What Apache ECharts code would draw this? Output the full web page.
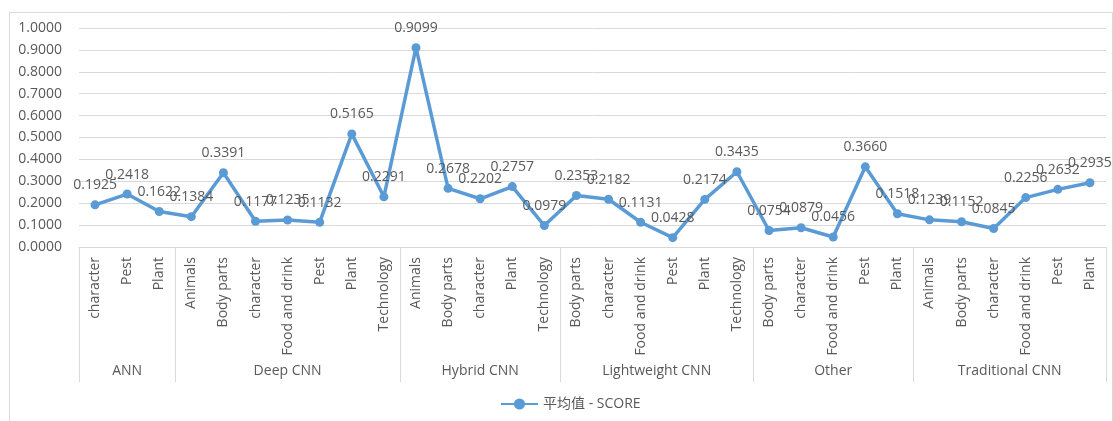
<!DOCTYPE html>
<html>
<head>
<meta charset="utf-8">
<script src="https://cdn.jsdelivr.net/npm/echarts@6/dist/echarts.min.js"></script>
<style>
  html, body { margin: 0; padding: 0; background: #ffffff; }
  #chart { width: 1113px; height: 421px; }
</style>
</head>
<body>
<div id="chart"></div>
<script>
// Model families (outer axis level) and how many domains each covers
const groupNames = ['ANN', 'Deep CNN', 'Hybrid CNN', 'Lightweight CNN', 'Other', 'Traditional CNN'];
const groupSizes = [3, 7, 5, 6, 5, 6];

// Application domains (inner axis level), in plotting order
const categories = [
  'character', 'Pest', 'Plant',
  'Animals', 'Body parts', 'character', 'Food and drink', 'Pest', 'Plant', 'Technology',
  'Animals', 'Body parts', 'character', 'Plant', 'Technology',
  'Body parts', 'character', 'Food and drink', 'Pest', 'Plant', 'Technology',
  'Body parts', 'character', 'Food and drink', 'Pest', 'Plant',
  'Animals', 'Body parts', 'character', 'Food and drink', 'Pest', 'Plant'
];

// Mean SCORE per family / domain
const scoreMean = [
  0.1925, 0.2418, 0.1622,
  0.1384, 0.3391, 0.1177, 0.1235, 0.1132, 0.5165, 0.2291,
  0.9099, 0.2678, 0.2202, 0.2757, 0.0979,
  0.2353, 0.2182, 0.1131, 0.0428, 0.2174, 0.3435,
  0.0754, 0.0879, 0.0456, 0.3660, 0.1518,
  0.1239, 0.1152, 0.0845, 0.2256, 0.2632, 0.2935
];

const seriesName = '平均值 - SCORE';

// Outer axis level: half-category slots so group names sit centred
// and separators fall on group boundaries.
const slotCount = categories.length * 2 + 1;
const groupSlots = new Array(slotCount).fill('');
const boundarySlots = new Set([0]);
let start = 0;
groupNames.forEach((name, i) => {
  groupSlots[start * 2 + groupSizes[i]] = name;
  start += groupSizes[i];
  boundarySlots.add(start * 2);
});

const FONT = '"Open Sans", "Noto Sans CJK SC", sans-serif';
const GREY_TEXT = '#595959';
const GREY_LINE = '#d9d9d9';
const BLUE = '#5b9bd5';

const chart = echarts.init(document.getElementById('chart'), null, { renderer: 'canvas' });

chart.setOption({
  animation: false,
  backgroundColor: '#ffffff',
  textStyle: { fontFamily: FONT },
  graphic: [{
    type: 'rect',
    left: 7, top: 10,
    shape: { width: 1103, height: 420 },
    style: { fill: 'none', stroke: GREY_LINE, lineWidth: 1 },
    silent: true,
    z: -10
  }],
  grid: { left: 79, right: 7, top: 28, bottom: 174, containLabel: false },
  legend: {
    data: [seriesName],
    top: 392,
    left: 495,
    itemWidth: 37,
    itemHeight: 14,
    itemGap: 10,
    textStyle: { color: GREY_TEXT, fontSize: 14, fontFamily: FONT }
  },
  xAxis: [
    {
      type: 'category',
      data: categories,
      boundaryGap: true,
      position: 'bottom',
      axisLine: { show: true, lineStyle: { color: GREY_LINE, width: 1 } },
      axisTick: { show: false },
      axisLabel: {
        interval: 0,
        rotate: 90,
        margin: 10,
        color: GREY_TEXT,
        fontSize: 14,
        fontFamily: FONT
      },
      splitLine: { show: false }
    },
    {
      type: 'category',
      data: groupSlots,
      boundaryGap: false,
      position: 'bottom',
      offset: 0,
      axisLine: { show: false },
      axisTick: {
        show: true,
        interval: (idx) => boundarySlots.has(idx),
        length: 135,
        lineStyle: { color: GREY_LINE, width: 1 }
      },
      axisLabel: {
        interval: 0,
        margin: 117,
        color: GREY_TEXT,
        fontSize: 14,
        fontFamily: FONT
      },
      splitLine: { show: false }
    }
  ],
  yAxis: {
    type: 'value',
    min: 0,
    max: 1,
    interval: 0.1,
    axisLine: { show: false },
    axisTick: { show: false },
    axisLabel: {
      margin: 17,
      color: GREY_TEXT,
      fontSize: 14,
      fontFamily: FONT,
      formatter: (v) => v.toFixed(4)
    },
    splitLine: { show: true, lineStyle: { color: GREY_LINE, width: 1 } }
  },
  series: [{
    name: seriesName,
    type: 'line',
    xAxisIndex: 0,
    data: scoreMean,
    symbol: 'circle',
    symbolSize: 9,
    itemStyle: { color: BLUE },
    lineStyle: { color: BLUE, width: 3.5 },
    label: {
      show: true,
      position: 'top',
      distance: 8,
      color: GREY_TEXT,
      fontSize: 14,
      fontFamily: FONT,
      formatter: (p) => p.value.toFixed(4)
    },
    labelLayout: { hideOverlap: false }
  }]
});
</script>
</body>
</html>
